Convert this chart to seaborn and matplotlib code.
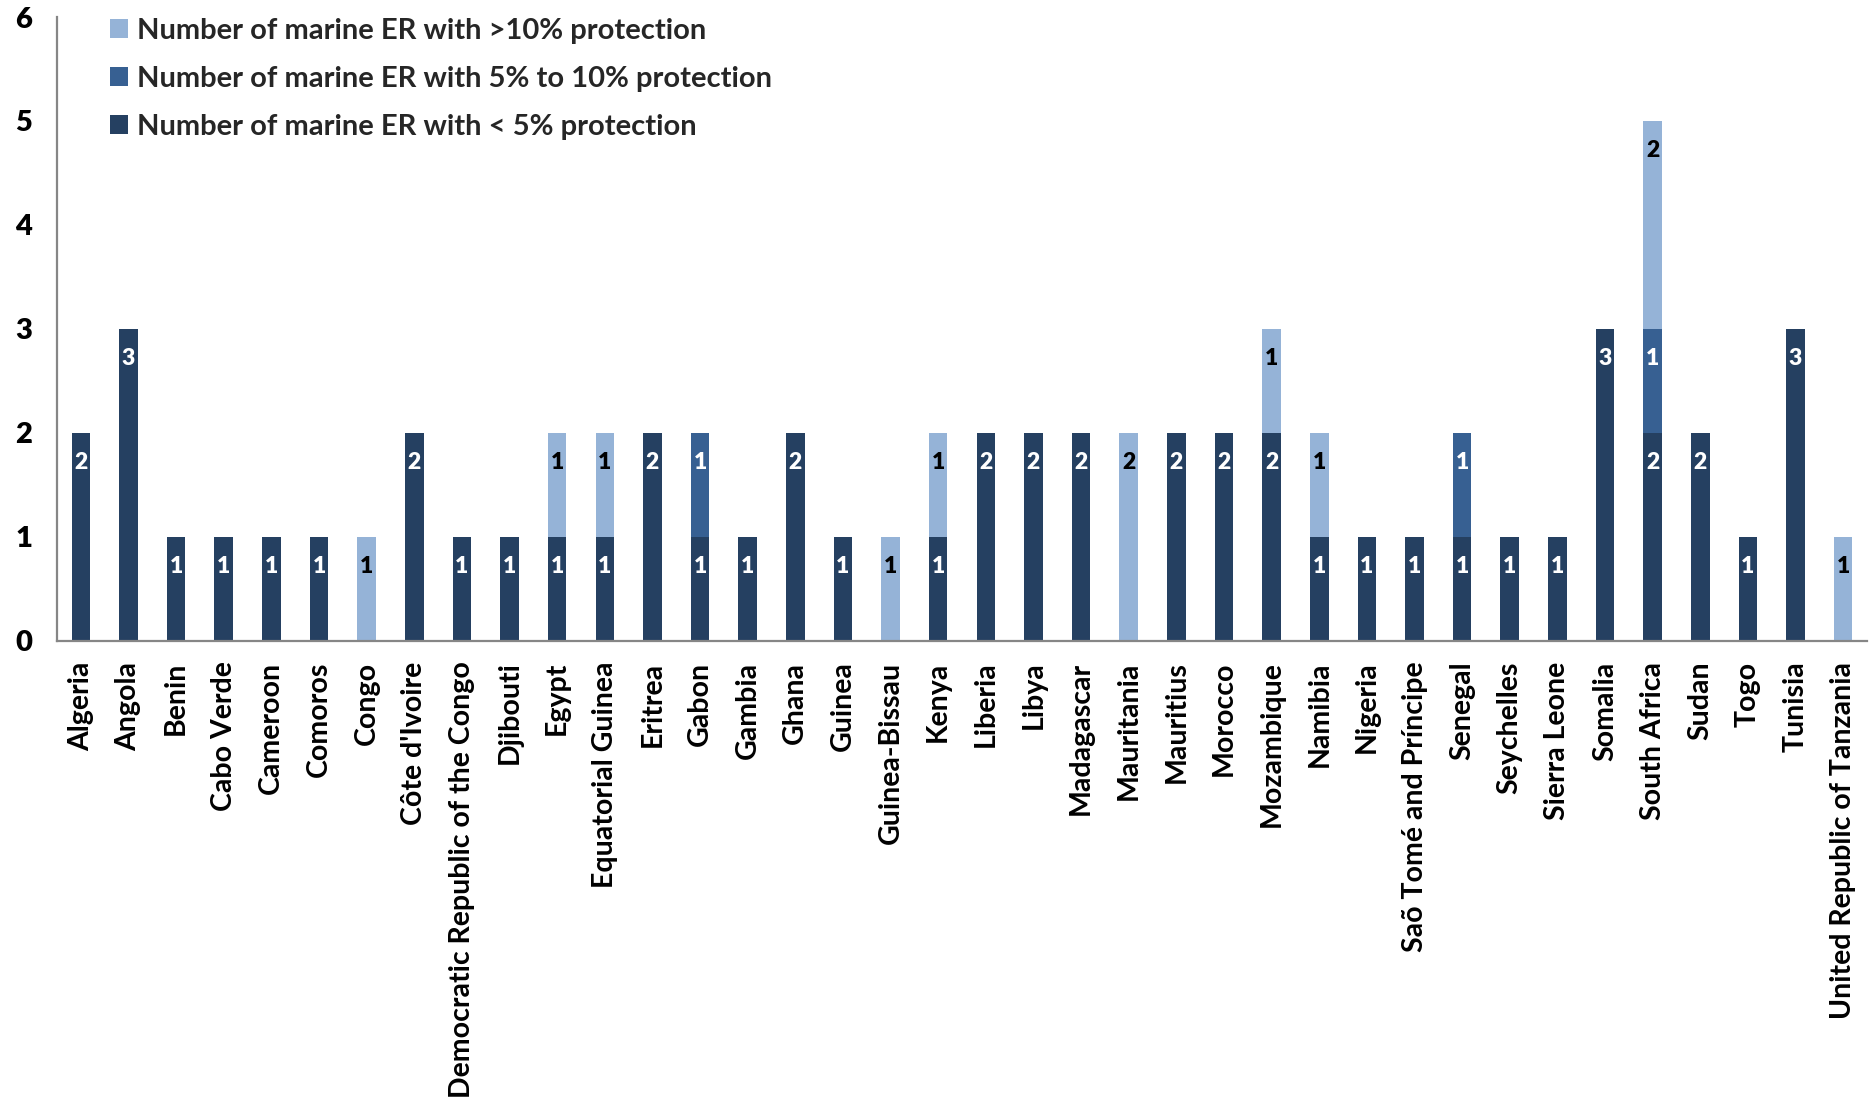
import matplotlib
matplotlib.use("Agg")
import matplotlib.pyplot as plt
from matplotlib.patches import Patch
import numpy as np
import pandas as pd
import seaborn as sns

countries = [
    "Algeria", "Angola", "Benin", "Cabo Verde", "Cameroon", "Comoros", "Congo",
    "Côte d'Ivoire", "Democratic Republic of the Congo", "Djibouti", "Egypt",
    "Equatorial Guinea", "Eritrea", "Gabon", "Gambia", "Ghana", "Guinea",
    "Guinea-Bissau", "Kenya", "Liberia", "Libya", "Madagascar", "Mauritania",
    "Mauritius", "Morocco", "Mozambique", "Namibia", "Nigeria",
    "Saõ Tomé and Príncipe", "Senegal", "Seychelles", "Sierra Leone", "Somalia",
    "South Africa", "Sudan", "Togo", "Tunisia", "United Republic of Tanzania",
]
# Number of marine ecoregions per protection class
below_5 = [2, 3, 1, 1, 1, 1, 0, 2, 1, 1, 1, 1, 2, 1, 1, 2, 1, 0, 1, 2, 2, 2, 0,
           2, 2, 2, 1, 1, 1, 1, 1, 1, 3, 2, 2, 1, 3, 0]
from_5_to_10 = [0, 0, 0, 0, 0, 0, 0, 0, 0, 0, 0, 0, 0, 1, 0, 0, 0, 0, 0, 0, 0, 0, 0,
                0, 0, 0, 0, 0, 0, 1, 0, 0, 0, 1, 0, 0, 0, 0]
above_10 = [0, 0, 0, 0, 0, 0, 1, 0, 0, 0, 1, 1, 0, 0, 0, 0, 0, 1, 1, 0, 0, 0, 2,
            0, 0, 1, 1, 0, 0, 0, 0, 0, 0, 2, 0, 0, 0, 1]
series_labels = [
    "Number of marine ER with >10% protection",
    "Number of marine ER with 5% to 10% protection",
    "Number of marine ER with < 5% protection",
]
y_ticks = [0, 1, 2, 3, 4, 5, 6]

c_dark = "#254061"
c_mid = "#376092"
c_light = "#95B3D7"
axis_grey = "#868686"

sns.set_theme(style="white")
plt.rcParams["font.family"] = ["Lato", "DejaVu Sans"]
plt.rcParams["font.weight"] = "bold"

df = pd.DataFrame({
    "country": countries,
    "low": below_5,
    "mid": from_5_to_10,
    "high": above_10,
})
df["cum_low"] = df["low"]
df["cum_mid"] = df["low"] + df["mid"]
df["cum_high"] = df["cum_mid"] + df["high"]

fig = plt.figure(figsize=(18.7, 11.12), dpi=100)
ax = fig.add_axes([0.0305, 0.4238, 0.9679, 0.5609])

# Stacked bars drawn as overlapping cumulative totals
for col, color in [("cum_high", c_light), ("cum_mid", c_mid), ("cum_low", c_dark)]:
    sns.barplot(data=df, x="country", y=col, color=color, width=0.39,
                saturation=1, linewidth=0, ax=ax, order=countries)

# Value labels near the top of each segment
for i in range(len(countries)):
    segs = [(df["low"][i], df["cum_low"][i], "white"),
            (df["mid"][i], df["cum_mid"][i], "white"),
            (df["high"][i], df["cum_high"][i], "black")]
    for val, top, tcol in segs:
        if val > 0:
            ax.annotate(str(val), xy=(i, top), xytext=(0, -21.5),
                        textcoords="offset points", ha="center", va="center",
                        color=tcol, fontsize=16.5, fontweight="heavy")

ax.set_xlim(-0.5, len(countries) - 0.5)
ax.set_ylim(0, 6)
ax.set_yticks(y_ticks)
ax.set_yticklabels([str(t) for t in y_ticks], fontsize=21, fontweight="heavy")
ax.set_xlabel("")
ax.set_ylabel("")
ax.set_xticks(range(len(countries)))
ax.set_xticklabels(countries, rotation=90, fontsize=20.5, fontweight="bold",
                   ha="center", va="top")
ax.set_xticks(np.arange(-0.5, len(countries)), minor=True)
ax.tick_params(axis="x", which="major", length=0, pad=15, colors="black")
ax.tick_params(axis="x", which="minor", length=9, width=1.6, color=axis_grey,
               direction="out")
ax.tick_params(axis="y", which="major", length=9, width=1.6, color=axis_grey,
               direction="out", pad=9, labelcolor="black")

for side in ["top", "right"]:
    ax.spines[side].set_visible(False)
for side in ["left", "bottom"]:
    ax.spines[side].set_color(axis_grey)
    ax.spines[side].set_linewidth(1.6)

handles = [Patch(facecolor=c_light, edgecolor="none"),
           Patch(facecolor=c_mid, edgecolor="none"),
           Patch(facecolor=c_dark, edgecolor="none")]
leg = ax.legend(handles, series_labels, loc="upper left",
                bbox_to_anchor=(0.0293, 0.999), frameon=False,
                borderaxespad=0, borderpad=0,
                handlelength=0.62, handleheight=0.62, handletextpad=0.3,
                labelspacing=0.76, prop={"size": 21, "weight": "bold"})

fig.savefig("out.png", dpi=100)
